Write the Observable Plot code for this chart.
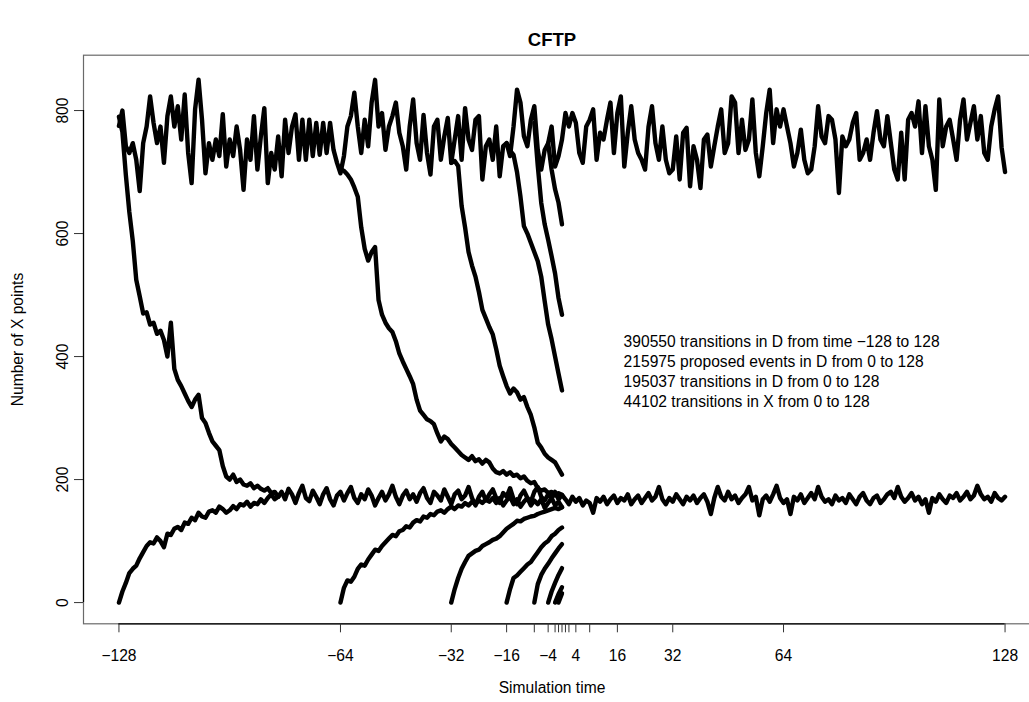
<!DOCTYPE html>
<html>
<head>
<meta charset="utf-8">
<script src="https://cdn.jsdelivr.net/npm/d3@7"></script>
<script src="https://cdn.jsdelivr.net/npm/@observablehq/plot@0.6"></script>
<style>
  html, body { margin: 0; padding: 0; background: #fff; overflow: hidden; width: 1029px; height: 702px; }
  #chart svg { display: block; max-width: none !important; }
</style>
</head>
<body>
<div id="chart"></div>
<script>
// ---------- axis / text data ----------
const xTicks = [-128, -64, -32, -16, -8, -4, -2, -1, 0, 1, 2, 4, 8, 16, 32, 64, 128];
const xLabeled = [-128, -64, -32, -16, -4, 4, 16, 32, 64, 128];
const yTicks = [0, 200, 400, 600, 800];
const xDomain = [-138.24, 138.24];
const yDomain = [-34.5, 890];
const titleText = "CFTP";
const xTitle = "Simulation time";
const yTitle = "Number of X points";
const noteLines = [
  "390550 transitions in D from time \u2212128 to 128",
  "215975 proposed events in D from 0 to 128",
  "195037 transitions in D from 0 to 128",
  "44102 transitions in X from 0 to 128"
];
const noteAt = [{t: 17.8, v: 377}];

// ---------- series (one value per unit of simulation time, starting at *Start) ----------
// Dominating process D, time -128 .. 128
const dStart = -128;
const dValues = [
  775,800,742,731,747,720,669,747,774,823,780,747,774,715,791,823,774,807,753,826,
  731,682,802,850,785,698,747,720,753,726,794,709,753,726,774,736,671,753,720,791,
  704,758,804,682,731,704,758,693,785,731,774,794,720,785,720,785,726,780,728,780,
  731,780,736,715,698,726,774,791,829,774,731,785,742,813,850,774,796,736,774,791,
  813,764,742,704,774,818,747,720,793,731,696,774,785,720,758,788,715,753,791,720,
  804,753,736,785,791,688,742,753,720,774,693,742,747,726,774,834,813,758,742,785,
  807,736,704,736,747,774,709,726,753,796,774,796,780,731,715,774,785,802,720,764,
  753,785,813,731,796,823,709,764,807,753,731,720,704,774,807,747,720,774,720,698,
  704,758,688,764,772,677,742,720,674,753,761,709,742,774,802,731,747,823,813,731,
  785,736,753,818,731,693,742,796,834,747,802,774,802,774,747,709,731,769,720,698,
  704,742,807,758,747,791,785,753,666,758,742,753,780,796,720,731,753,720,764,799,
  753,742,791,747,704,688,764,688,785,796,774,815,731,807,742,720,671,818,742,774,
  785,753,720,785,818,753,780,807,753,791,731,720,774,802,823,740,700
];

// Coalescing target path X (after coalescence), time -82 .. 128
const xStart = -82;
const xValues = [
  172,180,168,185,176,162,178,190,170,165,
  182,172,160,176,186,168,158,174,180,166,
  178,188,170,162,176,168,184,174,158,170,
  180,166,176,190,172,160,174,182,168,176,
  164,178,186,170,162,180,174,166,184,172,
  160,176,182,168,174,188,170,158,172,180,
  166,176,184,170,162,178,172,186,168,160,
  174,182,170,164,180,188,172,166,176,170,
  180,168,175,
  168,160,172,164,170,158,166,162,146,170,
  164,172,160,168,174,162,170,166,176,160,
  168,174,162,170,178,166,172,188,168,160,
  170,164,176,168,160,172,166,174,162,170,
  176,164,144,170,188,172,166,180,168,174,
  162,170,176,188,166,172,142,168,174,164,
  176,190,170,162,168,144,172,166,176,162,
  170,178,168,188,172,164,168,160,174,166,
  170,162,176,168,160,172,178,166,160,170,
  174,162,168,176,180,170,188,172,164,170,
  178,166,172,160,168,146,170,164,176,168,
  162,174,170,178,166,172,180,168,174,190,
  176,168,172,164,178,170,166,172
];

// Upper (start at D) and lower (start at 0) chains, each run until time 0
const up128Start = -128;
const up128 = [790,765,695,635,588,525,498,470,472,452,455,437,442,427,400,455,380,362,352,340,
  328,318,330,338,300,292,276,262,255,248,222,205,200,208,196,200,192,190,194,186,190,185,182,186,178,180,172];
const low128Start = -128;
const low128 = [0,18,32,48,55,60,72,82,92,98,96,106,100,90,112,110,120,123,118,130,
  128,138,134,146,140,138,148,150,146,156,152,146,150,157,152,160,158,164,156,162,160,168,162,170,176,168,172];

const up64Start = -64;
const up64 = [705,702,696,688,675,660,610,575,556,570,578,492,468,455,446,440,425,405,392,380,
  368,355,330,312,305,298,295,290,275,262,270,266,258,252,246,240,236,232,238,230,
  233,226,232,228,218,212,210,214,208,212,206,208,202,205,198,194,196,186,182,184,178,180,174,178,175];
const low64Start = -64;
const low64 = [0,24,36,34,42,55,62,60,70,78,86,84,92,98,104,110,108,116,118,124,
  122,130,134,132,140,138,144,142,148,150,146,152,156,152,158,156,162,158,164,160,
  166,162,168,164,170,162,170,158,166,172,160,168,156,164,170,158,166,160,168,154,162,170,158,164,155];

const up32Start = -32;
const up32 = [715,718,710,645,610,570,548,530,505,476,462,448,436,412,385,368,352,340,348,342,
  330,334,318,305,285,260,252,242,236,232,228,218,208];
const low32Start = -32;
const low32 = [0,22,40,55,66,76,80,84,86,92,95,98,102,104,108,114,120,124,128,133,
  132,136,138,140,141,144,146,148,150,152,154,152,155];

const up16Start = -16;
const up16 = [747,735,728,700,660,612,600,585,570,555,530,490,452,428,400,372,345];
const low16Start = -16;
const low16 = [0,22,40,44,50,56,62,66,74,82,90,96,100,108,112,118,122];

const up8Start = -8;
const up8 = [780,710,650,615,590,563,535,495,468];
const low8Start = -8;
const low8 = [0,30,45,55,63,72,80,88,95];

const up4Start = -4;
const up4 = [747,704,672,650,615];
const low4Start = -4;
const low4 = [0,18,32,45,56];

const low2Start = -2;
const low2 = [0,14,25];
const low1Start = -1;
const low1 = [0,15];

// ---------- build table ----------
const series = [
  {id: "D", start: dStart, values: dValues},
  {id: "X", start: xStart, values: xValues},
  {id: "U128", start: up128Start, values: up128},
  {id: "L128", start: low128Start, values: low128},
  {id: "U64", start: up64Start, values: up64},
  {id: "L64", start: low64Start, values: low64},
  {id: "U32", start: up32Start, values: up32},
  {id: "L32", start: low32Start, values: low32},
  {id: "U16", start: up16Start, values: up16},
  {id: "L16", start: low16Start, values: low16},
  {id: "U8", start: up8Start, values: up8},
  {id: "L8", start: low8Start, values: low8},
  {id: "U4", start: up4Start, values: up4},
  {id: "L4", start: low4Start, values: low4},
  {id: "L2", start: low2Start, values: low2},
  {id: "L1", start: low1Start, values: low1}
];
const rows = [];
for (const s of series) s.values.forEach((v, i) => rows.push({id: s.id, t: s.start + i, v}));

const fmt = d => d < 0 ? "\u2212" + Math.abs(d) : String(d);
const FONT = "Liberation Sans, Arial, Helvetica, sans-serif";
const FS = 15.6;

const chart = Plot.plot({
  width: 1040,
  height: 702,
  marginLeft: 83,
  marginRight: 0,
  marginTop: 54.7,
  marginBottom: 78.7,
  x: {domain: xDomain},
  y: {domain: yDomain},
  style: {fontFamily: FONT, fontSize: FS + "px", background: "#fff", color: "#000", overflow: "visible"},
  marks: [
    Plot.frame({stroke: "#6a6a6a", strokeWidth: 1.2}),
    Plot.line(rows, {x: "t", y: "v", z: "id", stroke: "#000", strokeWidth: 4.4, strokeLinejoin: "round", strokeLinecap: "round"}),
    // axis lines (from first to last tick)
    Plot.ruleY([yDomain[0]], {x1: xTicks[0], x2: xTicks[xTicks.length - 1], stroke: "#000", strokeWidth: 1.2}),
    Plot.ruleX([xDomain[0]], {y1: yTicks[0], y2: yTicks[yTicks.length - 1], stroke: "#000", strokeWidth: 1.2}),
    // tick marks
    Plot.axisX({ticks: xTicks, tickSize: 9, tickFormat: () => "", label: null, stroke: "#333"}),
    Plot.axisY({ticks: yTicks, tickSize: 9, tickFormat: () => "", label: null, stroke: "#333"}),
    // tick labels
    Plot.text(xLabeled, {x: d => d, frameAnchor: "bottom", dy: 32, text: fmt, fontSize: FS, lineAnchor: "middle", fill: "#000"}),
    Plot.text(yTicks, {y: d => d, frameAnchor: "left", dx: -21, rotate: -90, text: d => String(d), fontSize: FS, lineAnchor: "middle", textAnchor: "middle", fill: "#000"}),
    // titles
    Plot.text([titleText], {frameAnchor: "top", dx: -10, dy: -15, text: d => d, fontSize: 18.5, fontWeight: "bold", lineAnchor: "middle", fill: "#000"}),
    Plot.text([xTitle], {frameAnchor: "bottom", dx: -10, dy: 64.5, text: d => d, fontSize: FS, lineAnchor: "middle", fill: "#000"}),
    Plot.text([yTitle], {frameAnchor: "left", dx: -66, rotate: -90, text: d => d, fontSize: FS, lineAnchor: "middle", textAnchor: "middle", fill: "#000"}),
    // annotation
    Plot.text(noteAt, {x: "t", y: "v", text: () => noteLines.join("\n"), textAnchor: "start", lineAnchor: "middle", lineHeight: 1.27, fontSize: FS, fill: "#000"})
  ]
});
document.getElementById("chart").appendChild(chart);
</script>
</body>
</html>
